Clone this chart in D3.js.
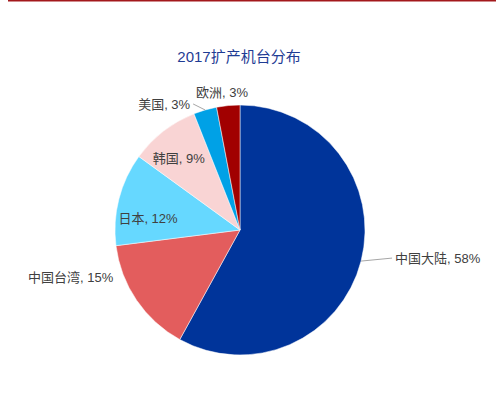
<!DOCTYPE html>
<meta charset="utf-8">
<style>
body { margin: 0; background: #fff; }
text { font-family: "Liberation Sans", "Noto Sans CJK SC", sans-serif; }
</style>
<svg width="496" height="398"></svg>
<script src="https://d3js.org/d3.v7.min.js"></script>
<script>

// data
var regions = ["中国大陆", "中国台湾", "日本", "韩国", "美国", "欧洲"];
var shares = [58, 15, 12, 9, 3, 3];
var colors = ["#00349a", "#e35d5d", "#66d8ff", "#f9d4d4", "#00a1e6", "#a10000"];

// how each label sits: inside / outside, with or without a leader line
var labelMode = ["leader", "outside", "inside", "inside", "leader", "outside"];

var svg = d3.select("svg"),
    width = +svg.attr("width"),
    height = +svg.attr("height"),
    cx = 240, cy = 230,
    radius = 125;

// thin dark-red rule at the top
svg.append("line")
    .attr("x1", 8).attr("x2", width)
    .attr("y1", 0.5).attr("y2", 0.5)
    .attr("stroke", "#a3191c")
    .attr("stroke-width", 2);

svg.append("text")
    .attr("x", 239)
    .attr("y", 62)
    .attr("text-anchor", "middle")
    .attr("fill", "#1f3c94")
    .style("font-size", "15px")
    .text("2017扩产机台分布");

var data = regions.map(function(r, i) {
  return { name: r, value: shares[i], color: colors[i], mode: labelMode[i] };
});

var pie = d3.pie()
    .sort(null)
    .value(function(d) { return d.value; });

var arc = d3.arc().innerRadius(0).outerRadius(radius);
var edgeArc = d3.arc().innerRadius(radius).outerRadius(radius);
var innerArc = d3.arc().innerRadius(radius * 0.76).outerRadius(radius * 0.76);

var g = svg.append("g").attr("transform", "translate(" + cx + "," + cy + ")");

var arcs = pie(data);

g.selectAll("path")
    .data(arcs)
    .enter().append("path")
      .attr("d", arc)
      .attr("fill", function(d) { return d.data.color; })
      .attr("stroke", "#fff")
      .attr("stroke-width", 0.5);

function label(d) { return d.data.name + ", " + d.data.value + "%"; }

var labels = g.append("g");

arcs.forEach(function(d) {
  var mid = (d.startAngle + d.endAngle) / 2,
      sx = Math.sin(mid);
  if (d.data.mode === "inside") {
    var c = innerArc.centroid(d);
    labels.append("text")
        .attr("x", c[0] + (sx < -0.9 ? 0 : -3)).attr("y", c[1] + (sx < -0.9 ? 12 : 3))
        .attr("dy", "0.35em")
        .attr("text-anchor", "middle")
        .attr("fill", "#404040")
        .style("font-size", "13px")
        .text(label(d));
  } else if (d.data.mode === "leader") {
    var p = edgeArc.centroid(d);
    var side = sx > 0 ? 1 : -1;
    var q = side > 0 ? [p[0] + 31, p[1] - 3] : [p[0] - 12, p[1] - 6];
    labels.append("polyline")
        .attr("points", [p, q].map(function(v) { return v.join(","); }).join(" "))
        .attr("fill", "none")
        .attr("stroke", "#a6a6a6")
        .attr("stroke-width", 1);
    labels.append("text")
        .attr("x", q[0] + side * 3).attr("y", q[1])
        .attr("dy", "0.35em")
        .attr("text-anchor", side > 0 ? "start" : "end")
        .attr("fill", "#404040")
        .style("font-size", "13px")
        .text(label(d));
  } else {
    // outside, no leader
    var o = d3.arc().innerRadius(radius * 1.1).outerRadius(radius * 1.1).centroid(d);
    var anchor = Math.abs(sx) < 0.2 ? "middle" : (sx > 0 ? "start" : "end");
    var ox = anchor === "middle" ? o[0] - 5 : o[0] - 13;
    var oy = anchor === "middle" ? o[1] - 1 : o[1] - 30;
    labels.append("text")
        .attr("x", ox).attr("y", oy)
        .attr("dy", "0.35em")
        .attr("text-anchor", anchor)
        .attr("fill", "#404040")
        .style("font-size", "13px")
        .text(label(d));
  }
});

</script>
